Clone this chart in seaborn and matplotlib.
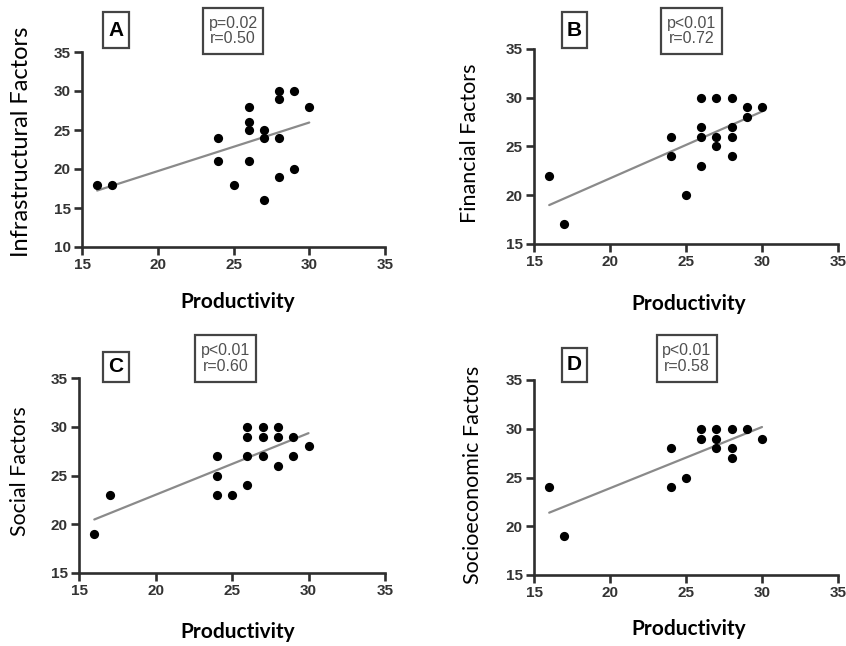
import matplotlib
matplotlib.use("Agg")
import matplotlib.pyplot as plt
import seaborn as sns
import pandas as pd
from matplotlib.patches import Rectangle

# ---------------- data ----------------
productivity_A = [16, 17, 24, 24, 25, 26, 26, 26, 26, 27, 27, 27, 28, 28, 28, 28, 29, 29, 30]
infrastructural = [18, 18, 24, 21, 18, 28, 26, 25, 21, 25, 24, 16, 30, 29, 24, 19, 30, 20, 28]

productivity_B = [16, 17, 24, 24, 25, 26, 26, 26, 26, 27, 27, 27, 28, 28, 28, 28, 29, 29, 30]
financial = [22, 17, 26, 24, 20, 30, 27, 26, 23, 30, 26, 25, 30, 27, 26, 24, 29, 28, 29]

productivity_C = [16, 17, 24, 24, 24, 25, 26, 26, 26, 26, 27, 27, 27, 28, 28, 28, 29, 29, 30]
social = [19, 23, 27, 25, 23, 23, 30, 29, 27, 24, 30, 29, 27, 30, 29, 26, 29, 27, 28]

productivity_D = [16, 17, 24, 24, 25, 26, 26, 27, 27, 27, 28, 28, 28, 29, 30]
socioeconomic = [24, 19, 28, 24, 25, 30, 29, 30, 29, 28, 30, 28, 27, 30, 29]

panel_letters = ["A", "B", "C", "D"]
stat_texts = ["p=0.02\nr=0.50", "p<0.01\nr=0.72", "p<0.01\nr=0.60", "p<0.01\nr=0.58"]
y_labels = ["Infrastructural Factors", "Financial Factors", "Social Factors", "Socioeconomic Factors"]
x_label = "Productivity"
x_ticks = [15, 20, 25, 30, 35]
y_ticks_A = [10, 15, 20, 25, 30, 35]
y_ticks_other = [15, 20, 25, 30, 35]

# ---------------- style ----------------
sns.set_style("ticks")
plt.rcParams["font.family"] = ["Liberation Sans", "DejaVu Sans"]

W, H = 846, 646
fig = plt.figure(figsize=(W / 100, H / 100), dpi=100)


def fx(px):
    return px / W


def fy(py):
    return 1 - py / H


panels = [
    dict(x=productivity_A, y=infrastructural, yt=y_ticks_A,
         box=(82, 52, 385, 247), ylab=(22, 142), ylab_size=17, xlab=(238, 302),
         letter=(103, 12, 129, 48), stat=(203, 8, 263, 54)),
    dict(x=productivity_B, y=financial, yt=y_ticks_other,
         box=(534, 49, 838, 244), ylab=(470, 143), ylab_size=15.5, xlab=(689, 304),
         letter=(562, 12, 587, 48), stat=(661, 8, 722, 54)),
    dict(x=productivity_C, y=social, yt=y_ticks_other,
         box=(79, 378, 385, 573), ylab=(20, 471), ylab_size=15.3, xlab=(238, 632),
         letter=(103, 352, 129, 382), stat=(195, 335, 256, 382)),
    dict(x=productivity_D, y=socioeconomic, yt=y_ticks_other,
         box=(534, 380, 838, 575), ylab=(473, 475), ylab_size=15.5, xlab=(689, 629),
         letter=(562, 348, 587, 382), stat=(657, 335, 717, 382)),
]

spine_col = "#2e2e2e"
for i, p in enumerate(panels):
    l, t, r, b = p["box"]
    ax = fig.add_axes([fx(l), fy(b), fx(r - l), (b - t) / H])
    df = pd.DataFrame({"x": p["x"], "y": p["y"]})
    sns.regplot(data=df, x="x", y="y", ax=ax, ci=None,
                scatter_kws=dict(s=44, color="black", alpha=1, linewidths=0, zorder=3,
                                 clip_on=False),
                line_kws=dict(color="#8a8a8a", lw=1.6, zorder=2))
    ax.set_xlim(15, 35)
    ax.set_ylim(p["yt"][0], p["yt"][-1])
    ax.set_xticks(x_ticks)
    ax.set_yticks(p["yt"])
    ax.set_xlabel("")
    ax.set_ylabel("")
    for s in ["top", "right"]:
        ax.spines[s].set_visible(False)
    for s in ["left", "bottom"]:
        ax.spines[s].set_color(spine_col)
        ax.spines[s].set_linewidth(1.9)
    ax.tick_params(axis="both", direction="out", length=6, width=1.9, color=spine_col,
                   labelsize=11, labelcolor="#333333", pad=2)
    for lab in ax.get_xticklabels() + ax.get_yticklabels():
        lab.set_fontweight("bold")
    ax.set_facecolor("none")

    # axis labels
    fig.text(fx(p["ylab"][0]), fy(p["ylab"][1]), y_labels[i], rotation=90,
             ha="center", va="center", fontsize=p["ylab_size"],
             family=["Lato", "DejaVu Sans"], color="black")
    fig.text(fx(p["xlab"][0]), fy(p["xlab"][1]), x_label, ha="center", va="center",
             fontsize=15, fontweight="bold", family=["Lato", "DejaVu Sans"], color="black")

    # letter box
    ll, lt, lr, lb = p["letter"]
    fig.patches.append(Rectangle((fx(ll), fy(lb)), fx(lr - ll), (lb - lt) / H,
                                 transform=fig.transFigure, fill=False,
                                 edgecolor="#444444", lw=1.6))
    fig.text(fx((ll + lr) / 2), fy((lt + lb) / 2), panel_letters[i], ha="center",
             va="center", fontsize=15, fontweight="bold", color="black")

    # stat box
    sl, st, sr, sb = p["stat"]
    fig.patches.append(Rectangle((fx(sl), fy(sb)), fx(sr - sl), (sb - st) / H,
                                 transform=fig.transFigure, fill=False,
                                 edgecolor="#444444", lw=1.6))
    fig.text(fx((sl + sr) / 2), fy((st + sb) / 2), stat_texts[i], ha="center",
             va="center", fontsize=11.5, color="#505050", linespacing=1.05)

fig.savefig("out.png", dpi=100, facecolor="white")
